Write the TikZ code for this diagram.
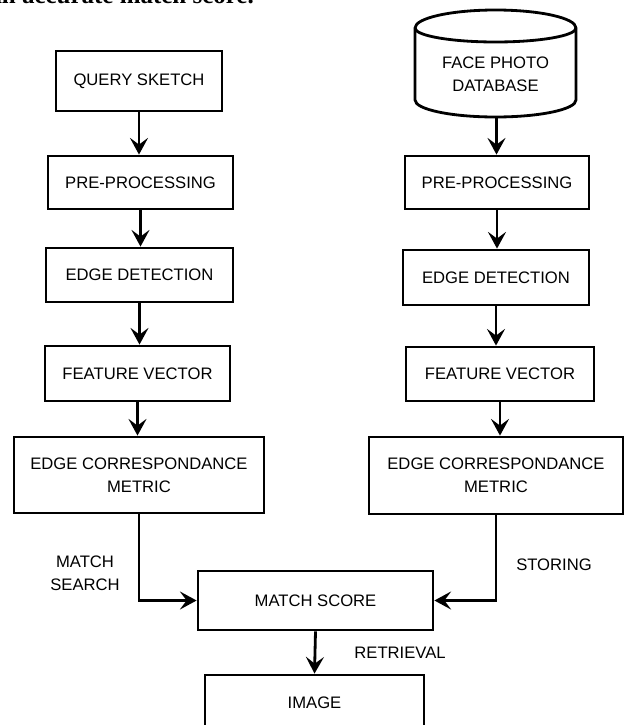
\documentclass[tikz,border=0pt]{standalone}
\usepackage{fontspec}
\setmainfont{Liberation Sans}
\newfontfamily\pageserif{Liberation Serif}
\usetikzlibrary{arrows.meta}
\tikzset{>=Stealth,
  blk/.style={draw,line width=2.4pt,align=center,inner sep=2pt,
    font=\fontsize{14.2}{19.5}\selectfont},
  flow/.style={draw,line width=2.4pt,-{Stealth[length=5mm,width=5.4mm,inset=2mm]}},
  lab/.style={align=center,inner sep=1pt,font=\fontsize{14.2}{19.5}\selectfont},
  drum/.style={draw,line width=2.4pt}}

\begin{document}
\begin{tikzpicture}[x=0.3mm,y=-0.3mm]
  \useasboundingbox (0,0) rectangle (627,725);
  \clip (0,0) rectangle (627,725);
  \fill[white] (0,0) rectangle (627,725);
  \node[anchor=base east,inner sep=0pt,font=\pageserif\bfseries\fontsize{21.3}{25}\selectfont]
    (txt) at (254,4) {an accurate match score.};
  % sketch side
  \node[blk,minimum width=49.8mm,minimum height=18mm] (qs) at (139,81) {QUERY SKETCH};
  \node[blk,minimum width=55.5mm,minimum height=15.9mm] (lpre) at (140.5,182.5) {PRE-PROCESSING};
  \node[blk,minimum width=56.1mm,minimum height=16.2mm] (ledge) at (139.5,275) {EDGE DETECTION};
  \node[blk,minimum width=55.5mm,minimum height=16.5mm] (lfeat) at (137.5,373.5) {FEATURE VECTOR};
  \node[blk,minimum width=75mm,minimum height=22.8mm] (lecm) at (139,475) {EDGE CORRESPONDANCE\\METRIC};
  % photo side
  \node[lab] (db) at (495.5,74.5) {FACE PHOTO\\DATABASE};
  \draw[drum] (415,28) arc[start angle=180,end angle=0,x radius=24.15mm,y radius=5.4mm]
    -- (576,100) arc[start angle=0,end angle=-180,x radius=24.15mm,y radius=5.1mm] -- cycle;
  \draw[drum] (415,28) arc[start angle=180,end angle=360,x radius=24.15mm,y radius=4.2mm];
  \coordinate (dbbot) at (496.5,117);
  \node[blk,minimum width=55.2mm,minimum height=15.9mm] (rpre) at (497,182.5) {PRE-PROCESSING};
  \node[blk,minimum width=55.8mm,minimum height=16.5mm] (redge) at (496,277.5) {EDGE DETECTION};
  \node[blk,minimum width=56.4mm,minimum height=16.2mm] (rfeat) at (500,374) {FEATURE VECTOR};
  \node[blk,minimum width=76.2mm,minimum height=23.1mm] (recm) at (496,475.5) {EDGE CORRESPONDANCE\\METRIC};
  % joined part
  \node[blk,minimum width=70.5mm,minimum height=17.7mm] (ms) at (315.5,600.5) {MATCH SCORE};
  \node[blk,minimum width=65.7mm,minimum height=16.8mm] (img) at (314.5,703) {IMAGE};
  \node[lab] (srch) at (85,573) {MATCH\\SEARCH};
  \node[lab] (stor) at (554,565) {STORING};
  \node[lab] (retr) at (400,653) {RETRIEVAL};
  \draw[flow] (qs.south) -- (qs.south |- lpre.north);
  \draw[flow] (lpre.south) -- (lpre.south |- ledge.north);
  \draw[flow] (ledge.south) -- (ledge.south |- lfeat.north);
  \draw[flow] (lfeat.south) -- (lfeat.south |- lecm.north);
  \draw[flow] (dbbot) -- (dbbot |- rpre.north);
  \draw[flow] (rpre.south) -- (rpre.south |- redge.north);
  \draw[flow] (redge.south) -- (redge.south |- rfeat.north);
  \draw[flow] (rfeat.south) -- (rfeat.south |- recm.north);
  \draw[flow] (lecm.south) |- (ms.west);
  \draw[flow] (recm.south) |- (ms.east);
  \draw[flow] (ms.south) -- (img.north);
\end{tikzpicture}
\end{document}
